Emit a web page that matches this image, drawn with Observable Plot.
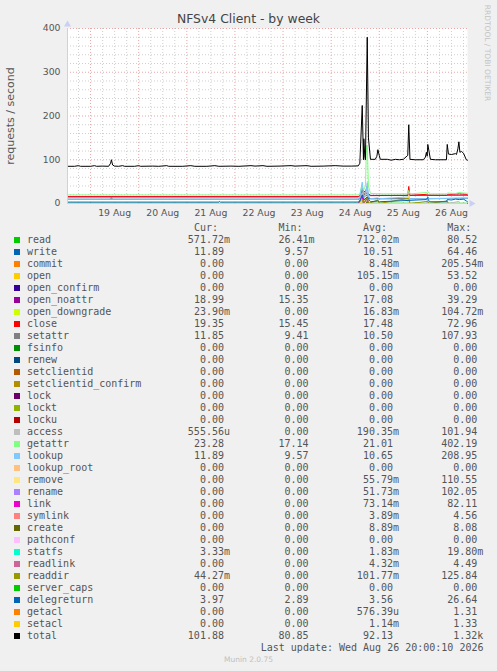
<!DOCTYPE html>
<html><head><meta charset="utf-8">
<script src="https://cdn.jsdelivr.net/npm/d3@7"></script>
<script src="https://cdn.jsdelivr.net/npm/@observablehq/plot@0.6"></script>
<style>
body{margin:0;background:#f0f0f0;}
#wrap{position:relative;width:497px;height:671px;background:#f0f0f0;font-family:"DejaVu Sans",sans-serif;color:#555;overflow:hidden}
#wrap svg{position:absolute;left:0;top:0}
.abs{position:absolute;white-space:pre}
.mono{font-family:"DejaVu Sans Mono",monospace;font-size:10px;line-height:12px;color:#555}
</style></head><body><div id="wrap"></div>
<script>
// ---- legend table ----
const names = ["read","write","commit","open","open_confirm","open_noattr","open_downgrade","close","setattr","fsinfo","renew","setclientid","setclientid_confirm","lock","lockt","locku","access","getattr","lookup","lookup_root","remove","rename","link","symlink","create","pathconf","statfs","readlink","readdir","server_caps","delegreturn","getacl","setacl","total"];
const colors = ["#00CC00","#0066B3","#FF8000","#FFCC00","#330099","#990099","#CCFF00","#FF0000","#808080","#008F00","#00487D","#B35A00","#B38F00","#6B006B","#8FB300","#B30000","#BEBEBE","#80FF80","#80C9FF","#FFC080","#FFE680","#AA80FF","#EE00CC","#FF8080","#666600","#FFBFFF","#00FFCC","#CC6699","#999900","#00CC00","#0066B3","#FF8000","#FFCC00","#000000"];
const curVals = ["571.72m","11.89","0.00","0.00","0.00","18.99","23.90m","19.35","11.85","0.00","0.00","0.00","0.00","0.00","0.00","0.00","555.56u","23.28","11.89","0.00","0.00","0.00","0.00","0.00","0.00","0.00","3.33m","0.00","44.27m","0.00","3.97","0.00","0.00","101.88"];
const minVals = ["26.41m","9.57","0.00","0.00","0.00","15.35","0.00","15.45","9.41","0.00","0.00","0.00","0.00","0.00","0.00","0.00","0.00","17.14","9.57","0.00","0.00","0.00","0.00","0.00","0.00","0.00","0.00","0.00","0.00","0.00","2.89","0.00","0.00","80.85"];
const avgVals = ["712.02m","10.51","8.48m","105.15m","0.00","17.08","16.83m","17.48","10.50","0.00","0.00","0.00","0.00","0.00","0.00","0.00","190.35m","21.01","10.65","0.00","55.79m","51.73m","73.14m","3.89m","8.89m","0.00","1.83m","4.32m","101.77m","0.00","3.56","576.39u","1.14m","92.13"];
const maxVals = ["80.52","64.46","205.54m","53.52","0.00","39.29","104.72m","72.96","107.93","0.00","0.00","0.00","0.00","0.00","0.00","0.00","101.94","402.19","208.95","0.00","110.55","102.05","82.11","4.56","8.08","0.00","19.80m","4.49","125.84","0.00","26.64","1.31","1.33","1.32k"];

// ---- axis labels ----
const dayLabels = ["19 Aug","20 Aug","21 Aug","22 Aug","23 Aug","24 Aug","25 Aug","26 Aug"];
const yTicks = [0,100,200,300,400];

// ---- series: [hours since 2026-08-18 00:00 UTC, requests/second] ----
const readPts = [[12.5,0.6],[157.5,0.6],[161.5,0.7],[162,10],[162.6,0.8],[212,0.6]];
const writePts = [[12.5,9.6],[157.5,9.6],[158.3,12],[159.5,30],[160.3,14],[162,20],[163.6,11],[191.5,11],[192.2,14],[193,11],[212,11.9]];
const openPts = [[12.5,0],[157.5,0],[160.3,8],[161,0],[162,15],[162.6,0],[182.2,0],[182.7,20],[183.3,0],[212,0]];
const openNoattrPts = [[12.5,15.3],[157.5,15.3],[158.3,17],[160,30],[162,22],[163.6,18.5],[212,19]];
const closePts = [[12.5,15.5],[157.5,15.5],[158.3,18],[159.5,30],[160.3,20],[162,25],[163.6,18],[182.2,18.5],[182.7,39],[183.3,18.5],[191.5,21],[192.2,19],[201.5,18.5],[202.5,21],[208,22],[211.4,21],[212,19.4]];
const setattrPts = [[12.5,9.5],[34,9.5],[34.4,15],[34.8,9.5],[157.5,9.6],[158.3,12],[159.5,35],[160.1,15],[162,40],[162.6,12],[163.6,11],[212,11.8]];
const accessPts = [[12.5,0],[157.5,0],[159.5,25],[160.1,5],[162,35],[162.6,2],[163.6,0],[167.3,6],[168,0],[182.2,0],[182.7,20],[183.3,0],[191.5,0],[192,8],[192.6,0],[201.5,0],[201.9,6],[202.5,0],[207.7,5],[208.2,0],[212,0]];
const getattrPts = [[12.5,19.5],[157.5,19.5],[158.3,22],[159.5,45],[160.1,30],[161.1,40],[161.6,132],[162,132],[162.6,40],[163.6,23],[170,22],[182.2,22],[182.7,30],[183.3,22],[191.5,25],[192.2,27],[193.5,22],[201.5,22],[201.9,24],[206,23],[207.7,25],[210,24],[212,23.3]];
const lookupPts = [[12.5,9.6],[157.5,9.6],[158.3,15],[159.5,49],[160.1,20],[161.1,15],[162,48],[162.6,16],[163.6,11],[167.3,13],[168,11],[182.7,15],[183.3,11],[212,11.9]];
const removePts = [[12.5,0],[157.5,0],[160.3,10],[161,0],[162,12],[162.6,0],[182.2,0],[182.7,18],[183.3,0],[212,0]];
const renamePts = [[12.5,0],[157.5,0],[159.5,18],[160.1,0],[162,10],[162.6,0],[212,0]];
const linkPts = [[12.5,0],[157.5,0],[159.5,16],[160.1,0],[162,12],[162.6,0],[212,0]];
const createPts = [[12.5,0],[161.5,0],[162,5],[162.6,0],[212,0]];
const readdirPts = [[12.5,0],[157.5,0],[159.5,10],[160.1,0],[162,15],[162.6,0],[167.3,8],[168,0],[182.7,12],[183.3,0],[192.2,5],[192.7,0],[201.9,6],[202.4,0],[212,0]];
const delegreturnPts = [[12.5,3.2],[88,3.2],[88.3,5],[88.8,3.2],[157.5,3.3],[158.3,5],[159.5,20],[160.3,8],[162,15],[163.6,4],[167.3,6],[168,4],[191.5,9],[192,13],[193,4],[201.5,4],[201.9,9],[204,8],[206,10],[208,9],[210,10],[211.4,6],[212,4]];
const totalPts = [[12.5,85],[16,85],[18,86.5],[19,85],[24,85],[26,86.5],[27,85],[30,85.5],[33,85],[34,92],[34.4,100],[35,88],[36,85.5],[38,85],[40,86.5],[41,85],[46,85],[48,86.5],[49,85],[55,85.5],[58,85],[62,86.5],[63,85],[70,85],[74,86.5],[76,85],[82,85],[86,86.5],[88,85],[94,85.5],[98,85],[104,86.5],[106,85.5],[110,86.5],[112,85],[118,85.5],[124,86.5],[126,85.5],[132,86.5],[134,85],[140,85.5],[146,86.5],[150,85.5],[154,85.5],[157.5,86],[158.3,92],[159.5,224],[160.1,100],[160.3,148],[160.8,105],[161.1,100],[162,380],[162.6,150],[163.6,101],[166,101],[166.8,108],[167.3,123],[168,110],[168.5,101],[172,101],[174,99],[176,101],[178,100],[180,101],[182.2,110],[182.7,180],[183.3,101],[186,100],[190,100],[191,106],[191.5,117],[191.9,108],[192.2,135],[193.5,101],[196,100],[201.5,100],[201.9,135],[202.5,113],[204,112],[206,114],[206.5,112],[207.2,125],[207.7,141],[208.2,117],[209,119],[210,115],[211.4,100],[212,99]];

const drawOrder = [
  ["read", readPts], ["write", writePts], ["open", openPts], ["open_noattr", openNoattrPts],
  ["close", closePts], ["setattr", setattrPts], ["access", accessPts], ["getattr", getattrPts],
  ["lookup", lookupPts], ["remove", removePts], ["rename", renamePts], ["link", linkPts],
  ["create", createPts], ["readdir", readdirPts], ["delegreturn", delegreturnPts], ["total", totalPts]
];

const t0 = Date.UTC(2026, 7, 18);
const toDate = h => new Date(t0 + h * 3600e3);
const start = toDate(12.5), end = toDate(212);
const colorOf = n => colors[names.indexOf(n)];

const sixHours = d3.utcHour.every(6).range(start, end).filter(d => d.getUTCHours() !== 0);
const midnights = d3.utcDay.range(start, end);
const dayTicks = midnights.map((d, i) => ({date: d3.utcHour.offset(d, 12), label: dayLabels[i]}));
const minorY = d3.range(20, 400, 20).filter(v => v % 100 !== 0);
const majorY = yTicks.filter(v => v > 0);

const axisColor = "#c9cff5";
const marks = [
  Plot.frame({fill: "#ffffff", stroke: "none"}),
  Plot.ruleX(sixHours, {stroke: "#cfcfcf", strokeDasharray: "1,2"}),
  Plot.ruleY(minorY, {stroke: "#cfcfcf", strokeDasharray: "1,2"}),
  Plot.ruleX(midnights, {stroke: "#eba5a5", strokeDasharray: "1,2"}),
  Plot.ruleY(majorY, {stroke: "#eba5a5", strokeDasharray: "1,2"}),
];
for (const [n, pts] of drawOrder) {
  marks.push(Plot.line(pts.map(([h, v]) => ({time: toDate(h), value: v})),
    {x: "time", y: "value", stroke: colorOf(n), strokeWidth: 1}));
}
marks.push(
  Plot.ruleX([start], {y1: 0, y2: 400, stroke: axisColor}),
  Plot.ruleY([0], {x1: start, x2: end, stroke: axisColor}),
  Plot.dot([start], {x: d => d, y: () => 400, dy: -4, symbol: "triangle", r: 2.6, fill: axisColor, stroke: "none"}),
  Plot.dot([end], {x: d => d, y: () => 0, dx: 4, symbol: "triangle", rotate: 90, r: 2.6, fill: axisColor, stroke: "none"}),
  Plot.text(dayTicks, {x: "date", text: "label", frameAnchor: "bottom", dy: 9.5, lineAnchor: "middle", fontSize: 9.3, fill: "#555"}),
  Plot.text(yTicks, {y: d => d, text: d => String(d), frameAnchor: "left", dx: -7, textAnchor: "end", fontSize: 9.3, fill: "#555"})
);

const chart = Plot.plot({
  width: 497, height: 220,
  marginLeft: 67, marginRight: 30, marginTop: 28, marginBottom: 17,
  style: {background: "transparent", fontFamily: "DejaVu Sans", overflow: "visible"},
  x: {type: "utc", domain: [start, end], axis: null},
  y: {domain: [0, 400], axis: null},
  marks
});

const wrap = document.getElementById("wrap");
wrap.appendChild(chart);

function addText(txt, css, cls) {
  const d = document.createElement("div");
  d.className = "abs " + (cls || "");
  d.textContent = txt;
  Object.assign(d.style, css);
  wrap.appendChild(d);
  return d;
}
addText("NFSv4 Client - by week", {left: "0px", width: "497px", textAlign: "center", top: "12px", fontSize: "12.4px", lineHeight: "14px", color: "#444"});
addText("requests / second", {left: "-89px", width: "200px", textAlign: "center", top: "109px", fontSize: "11px", lineHeight: "14px", color: "#555", transform: "rotate(-90deg)", transformOrigin: "50% 50%"});
addText("RRDTOOL / TOBI OETIKER", {left: "437px", width: "100px", textAlign: "center", top: "48px", fontSize: "7.5px", lineHeight: "10px", color: "#c4c4c4", transform: "rotate(90deg)", transformOrigin: "50% 50%"});

const colEdges = [230, 314.5, 399, 483.3];
const headers = ["Cur:", "Min:", "Avg:", "Max:"];
headers.forEach((h, j) => addText(h + "  ", {right: (497 - colEdges[j]) + "px", top: (228 - 6) + "px"}, "mono"));
names.forEach((n, i) => {
  const y = 240 + 12 * i;
  const sw = document.createElement("div");
  Object.assign(sw.style, {position: "absolute", left: "14px", top: (y - 3) + "px", width: "6px", height: "6px", background: colors[i]});
  wrap.appendChild(sw);
  addText(n, {left: "27px", top: (y - 6) + "px"}, "mono");
  [curVals, minVals, avgVals, maxVals].forEach((arr, j) => {
    const v = arr[i];
    const s = /[a-z]$/i.test(v) ? v : v + " ";
    addText(s, {right: (497 - colEdges[j]) + "px", top: (y - 6) + "px"}, "mono");
  });
});
addText("Last update: Wed Aug 26 20:00:10 2026", {right: (497 - 483.5) + "px", top: (648 - 6) + "px"}, "mono");
addText("Munin 2.0.75", {left: "0px", width: "497px", textAlign: "center", top: "655px", fontSize: "7.5px", lineHeight: "10px", color: "#c0c0c0"});
</script></body></html>
